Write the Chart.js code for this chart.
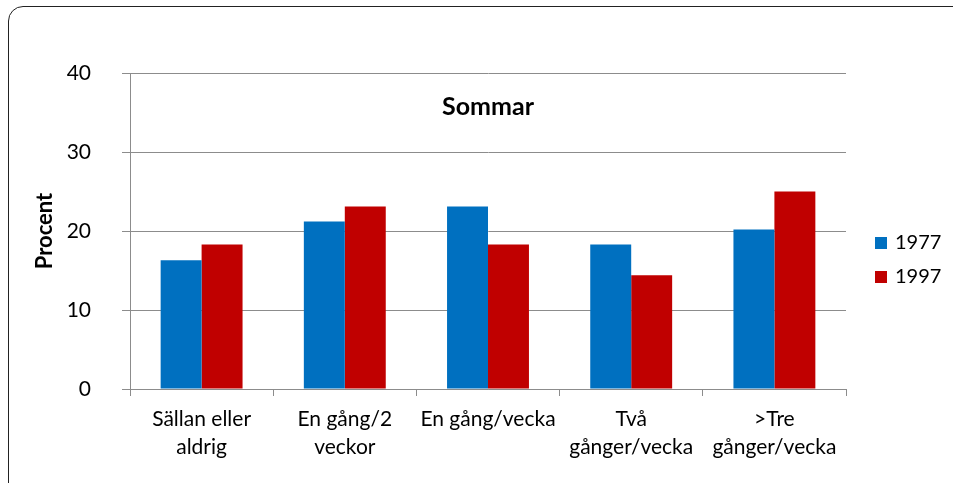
<!DOCTYPE html>
<html>
<head>
<meta charset="utf-8">
<script src="https://cdn.jsdelivr.net/npm/chart.js@4"></script>
<style>
  html, body { margin: 0; padding: 0; background: #fff; overflow: hidden; }
  #wrap { position: relative; width: 953px; height: 483px; }
  #frame { position: absolute; left: 8px; top: 6px; width: 1000px; height: 500px;
           border: 1.5px solid #222; border-radius: 15px; box-sizing: border-box; }
  canvas { position: absolute; left: 0; top: 0; }
</style>
</head>
<body>
<div id="wrap">
  <div id="frame"></div>
  <canvas id="chart" width="953" height="483"></canvas>
</div>
<script>
const categories = [
  ['Sällan eller', 'aldrig'],
  ['En gång/2', 'veckor'],
  'En gång/vecka',
  ['Två', 'gånger/vecka'],
  ['>Tre', 'gånger/vecka']
];
const values1977 = [16.3, 21.2, 23.1, 18.3, 20.2];
const values1997 = [18.3, 23.1, 18.3, 14.4, 25.0];
const yTicks = [0, 10, 20, 30, 40];
const chartTitle = 'Sommar';
const axisTitle = 'Procent';

const FONT = 'Lato, "Noto Sans", sans-serif';

// title drawn inside the plot area, legend drawn on the right
const insideTitle = {
  id: 'insideTitle',
  afterDraw(chart) {
    const ctx = chart.ctx, a = chart.chartArea;
    ctx.save();
    ctx.font = 'bold 25px ' + FONT;
    ctx.fillStyle = '#000';
    ctx.textAlign = 'center';
    ctx.textBaseline = 'middle';
    ctx.fillText(chartTitle, (a.left + a.right) / 2, 107);
    ctx.restore();
  }
};

const sideLegend = {
  id: 'sideLegend',
  afterDraw(chart) {
    const ctx = chart.ctx;
    ctx.save();
    ctx.font = '20px ' + FONT;
    ctx.textBaseline = 'middle';
    chart.data.datasets.forEach(function (ds, i) {
      const y = 243 + i * 34;
      ctx.fillStyle = ds.backgroundColor;
      ctx.fillRect(875, y - 6, 12, 12);
      ctx.fillStyle = '#000';
      ctx.fillText(ds.label, 895, y);
    });
    ctx.restore();
  }
};

new Chart(document.getElementById('chart'), {
  type: 'bar',
  data: {
    labels: categories,
    datasets: [
      { label: '1977', data: values1977, backgroundColor: '#0070C0' },
      { label: '1997', data: values1997, backgroundColor: '#C00000' }
    ]
  },
  options: {
    responsive: false,
    animation: false,
    layout: { padding: { left: 0, right: 107, top: 73, bottom: 0 } },
    datasets: { bar: { barPercentage: 1, categoryPercentage: 0.572 } },
    plugins: {
      legend: { display: false },
      tooltip: { enabled: false }
    },
    scales: {
      x: {
        grid: { drawOnChartArea: false, drawTicks: true, tickLength: 7, color: '#8c8c8c', offset: true },
        border: { color: '#8c8c8c', width: 1 },
        ticks: { color: '#000', font: { family: FONT, size: 21, lineHeight: 1.35 }, padding: 9, maxRotation: 0, autoSkip: false },
        afterFit(scale) { scale.height = 483 - 389; }
      },
      y: {
        min: 0, max: 40,
        afterBuildTicks(scale) { scale.ticks = yTicks.map(v => ({ value: v })); },
        grid: { color: '#8c8c8c', tickLength: 8 },
        border: { color: '#8c8c8c', width: 1 },
        ticks: { color: '#000', font: { family: FONT, size: 21 }, padding: 31 },
        title: { display: true, text: axisTitle, color: '#000', font: { family: FONT, size: 22, weight: 'bold', lineHeight: 1 }, padding: { top: 34, bottom: 0 } },
        afterFit(scale) { scale.width = 130; }
      }
    }
  },
  plugins: [insideTitle, sideLegend]
});
</script>
</body>
</html>
